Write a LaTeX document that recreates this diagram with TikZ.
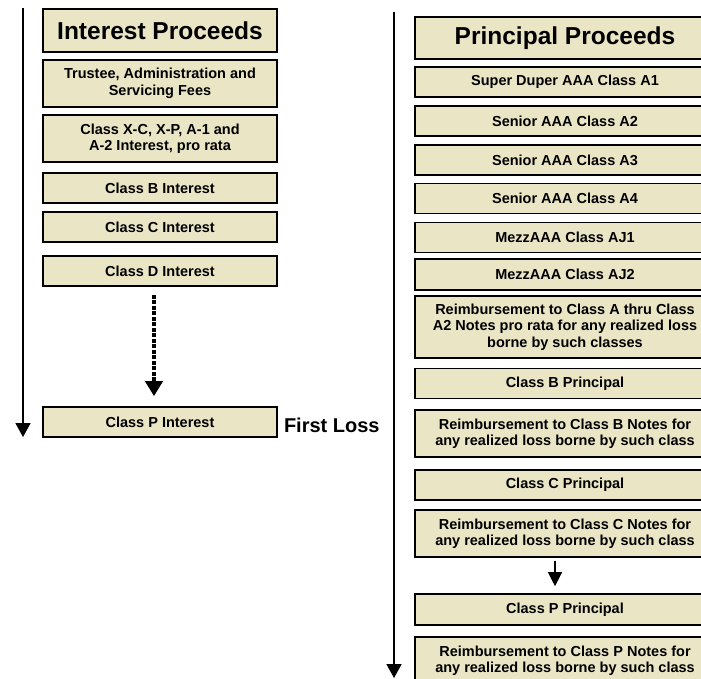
\documentclass[tikz,border=0pt]{standalone}
\usepackage{fontspec}
\setmainfont{Liberation Sans}
\usetikzlibrary{arrows.meta,positioning}
\definecolor{boxtan}{RGB}{234,230,197}

\begin{document}
\begin{tikzpicture}[x=1pt,y=-1pt,
  cashbox/.style={draw=black,line width=1.6pt,fill=boxtan,inner sep=0pt,align=center,
    font=\fontsize{14.5}{16.5}\selectfont\bfseries},
  titlebox/.style={cashbox,font=\fontsize{24.5}{29}\selectfont\bfseries},
  flow/.style={line width=1.8pt,-{Triangle[width=15pt,length=14pt]}}]
  \def\leftw{234}
  \def\rightw{300}
  \clip (0,0) rectangle (701,678);
  % interest side
  \node[titlebox,minimum width=\leftw,minimum height=43] (iProc) at (160,30.5) {Interest Proceeds};
  \foreach \name/\y/\h/\txt in {
      iFees/83.5/47/{Trustee, Administration and\\Servicing Fees},
      iAB/138.5/47/{Class X-C, X-P, A-1 and\\A-2 Interest, pro rata},
      iB/188/30/{Class B Interest},
      iC/227/30/{Class C Interest},
      iD/271/30/{Class D Interest},
      iP/422/30/{Class P Interest}} {
      \node[cashbox,minimum width=\leftw,minimum height=\h] (\name) at (160,\y) {\txt};
  }
  \node[anchor=west,inner sep=0pt,font=\fontsize{20}{24}\selectfont\bfseries] (loss)
    at ([xshift=6pt,yshift=-3pt]iP.east) {First Loss};
  \draw[line width=4pt,dash pattern=on 4pt off 1.5pt,-{Triangle[width=17pt,length=15pt]},
    shorten <=8pt,shorten >=10pt] ([xshift=-6pt]iD.south) -- ([xshift=-6pt]iP.north);
  % principal side
  \node[titlebox,minimum width=\rightw,minimum height=42] (pProc) at (565,38) {Principal Proceeds};
  \foreach \name/\y/\h/\txt in {
      pA1/82/30/{Super Duper AAA Class A1},
      pA2/121/30/{Senior AAA Class A2},
      pA3/160/30/{Senior AAA Class A3},
      pA4/198.5/30/{Senior AAA Class A4},
      pAJ1/237.5/30/{MezzAAA Class AJ1},
      pAJ2/274.5/31/{MezzAAA Class AJ2},
      pReA/327/62/{Reimbursement to Class A thru Class\\A2 Notes pro rata for any realized loss\\borne by such classes},
      pB/383.5/30/{Class B Principal},
      pReB/433.5/47/{Reimbursement to Class B Notes for\\any realized loss borne by such class},
      pC/485/30/{Class C Principal},
      pReC/533.5/47/{Reimbursement to Class C Notes for\\any realized loss borne by such class},
      pP/609.5/31/{Class P Principal},
      pReP/660.5/47/{Reimbursement to Class P Notes for\\any realized loss borne by such class}} {
      \node[cashbox,minimum width=\rightw,minimum height=\h] (\name) at (565,\y) {\txt};
  }
  \draw[line width=1.2pt,-{Triangle[width=14pt,length=14pt]},shorten <=3pt,shorten >=7pt]
    ([xshift=-10pt]pReC.south) -- ([xshift=-10pt]pP.north);
  % waterfall lines
  \coordinate (iTop) at (23,8);
  \coordinate (iEnd) at (23,437);
  \coordinate (pTop) at (394,12);
  \coordinate (pEnd) at (394,678);
  \draw[flow] (iTop) -- (iEnd);
  \draw[flow] (pTop) -- (pEnd);
\end{tikzpicture}
\end{document}
